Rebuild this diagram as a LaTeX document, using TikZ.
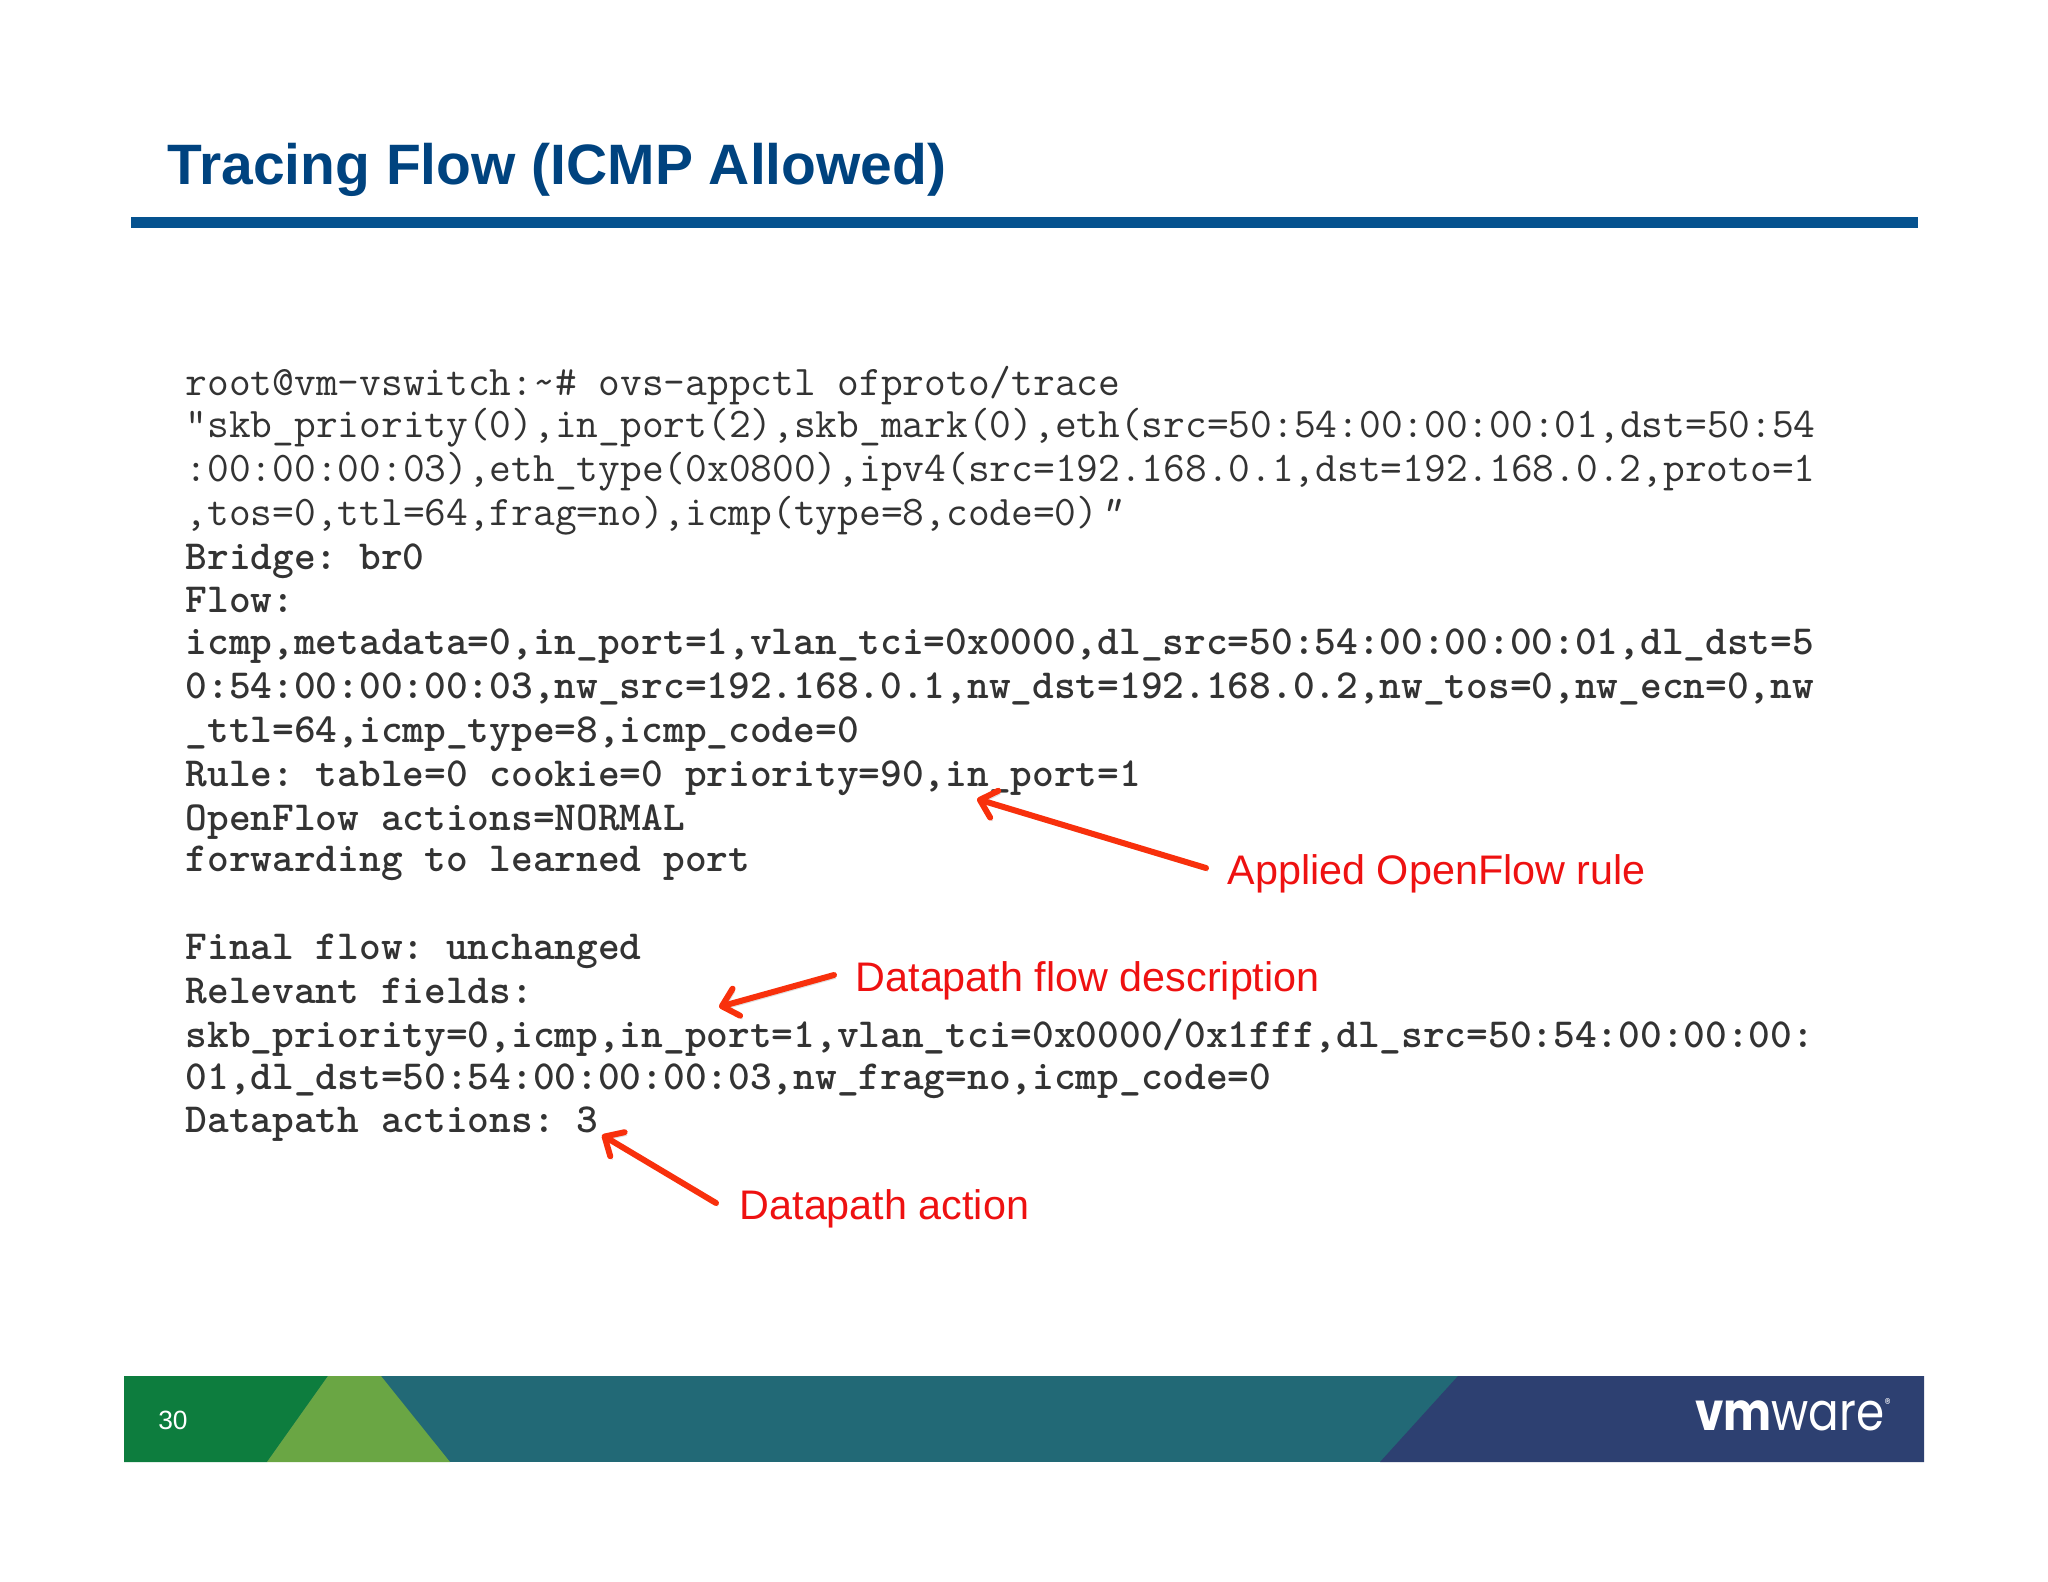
\documentclass[tikz,border=0pt]{standalone}
\usepackage{fontspec}
\setmainfont{Liberation Sans}
\newfontfamily\logofont{Poppins}
\usetikzlibrary{positioning}
\usetikzlibrary{arrows.meta}
\frenchspacing
\definecolor{titleblue}{HTML}{00437F}
\definecolor{ruleblue}{HTML}{05528F}
\definecolor{codegray}{HTML}{333333}
\definecolor{notered}{HTML}{EE1111}
\definecolor{pointerred}{HTML}{F8300C}
\definecolor{bargreen}{HTML}{0D7D3E}
\definecolor{barlight}{HTML}{6AA644}
\definecolor{barteal}{HTML}{226976}
\definecolor{barnavy}{HTML}{2D4071}
\tikzstyle{code}=[anchor=base west,inner sep=0pt,text=codegray,font=\fontsize{12}{12}\ttfamily]
\tikzstyle{boldcode}=[code,font=\fontsize{11.76}{12}\ttfamily\bfseries]
\tikzstyle{note}=[anchor=west,inner sep=0.19cm,text=notered,font=\fontsize{11.75}{13}\selectfont]
\tikzstyle{pointer}=[draw=pointerred,line width=1.7pt,line cap=round,-{Straight Barb[length=0.15cm,width=0.28cm,round]},preaction={draw=black,draw opacity=0.12,transform canvas={shift={(0.02cm,-0.03cm)}}}]

\begin{document}
\begin{tikzpicture}[x=0.01cm,y=-0.01cm]
  \useasboundingbox (0,0) rectangle (2048,1582);

  \node[anchor=base west,inner sep=0pt,text=titleblue,font=\fontsize{16.2}{18}\selectfont\bfseries] (title) at (167,185) {Tracing Flow (ICMP Allowed)};
  \fill[ruleblue] (131,217) rectangle (1918,228);

  \foreach \y/\name/\label in {396/linea/{root@vm-vswitch:\textasciitilde\# ovs-appctl ofproto/trace},
    437/lineb/{"skb\_priority(0),in\_port(2),skb\_mark(0),eth(src=50:54:00:00:00:01,dst=50:54},
    481/linec/{:00:00:00:03),eth\_type(0x0800),ipv4(src=192.168.0.1,dst=192.168.0.2,proto=1},
    525/lined/{,tos=0,ttl=64,frag=no),icmp(type=8,code=0){\itshape ”}}}
    \node[code] (\name) at (185,\y) {\label};

  \foreach \y/\name/\label in {569/linee/{Bridge: br0},
    612/linef/{Flow:},
    654/lineg/{icmp,metadata=0,in\_port=1,vlan\_tci=0x0000,dl\_src=50:54:00:00:00:01,dl\_dst=5},
    698/lineh/{0:54:00:00:00:03,nw\_src=192.168.0.1,nw\_dst=192.168.0.2,nw\_tos=0,nw\_ecn=0,nw},
    742/linei/{\_ttl=64,icmp\_type=8,icmp\_code=0},
    786/linej/{Rule: table=0 cookie=0 priority=90,in\_port=1},
    830/linek/{OpenFlow actions=NORMAL},
    871/linel/{forwarding to learned port},
    959/linem/{Final flow: unchanged},
    1003/linen/{Relevant fields:},
    1047/lineo/{skb\_priority=0,icmp,in\_port=1,vlan\_tci=0x0000/0x1fff,dl\_src=50:54:00:00:00:},
    1089/linep/{01,dl\_dst=50:54:00:00:00:03,nw\_frag=no,icmp\_code=0},
    1132/lineq/{Datapath actions: 3}}
    \node[boldcode] (\name) at (185,\y) {\label};

  % labels and their pointers
  \node[note] (rulenote) at (1208,874) {Applied OpenFlow rule};
  \node[note] (flownote) at (836,981) {Datapath flow description};
  \node[note] (actionnote) at (720,1209) {Datapath action};

  \coordinate (ruletip) at (977,799);
  \coordinate (flowtip) at (719,1007);
  \coordinate (actiontip) at (602,1135);

  \draw[pointer] ([xshift=-0.02cm,yshift=0.06cm]rulenote.west) -- (ruletip);
  \draw[pointer] ([xshift=-0.02cm,yshift=0.06cm]flownote.west) -- (flowtip);
  \draw[pointer] ([xshift=-0.04cm,yshift=0.06cm]actionnote.west) -- (actiontip);

  % footer band
  \fill[barteal] (124,1376) rectangle (1924,1462);
  \fill[bargreen] (124,1376) -- (328,1376) -- (267,1462) -- (124,1462) -- cycle;
  \fill[barlight] (328,1376) -- (381,1376) -- (450,1462) -- (267,1462) -- cycle;
  \fill[barnavy] (1458,1376) -- (1924,1376) -- (1924,1462) -- (1380,1462) -- cycle;

  \node[text=white,inner sep=0pt,font=\fontsize{7.5}{9}\selectfont] (pagenum) at (173,1420) {30};
  \node[anchor=base,text=white,inner sep=0pt,font=\fontsize{15}{16}\logofont] (logo) at (1793,1430) {\scalebox{0.86}[1]{\textbf{vm}ware\raisebox{0.75ex}{\fontsize{4}{4}\selectfont ®}}};
\end{tikzpicture}
\end{document}
